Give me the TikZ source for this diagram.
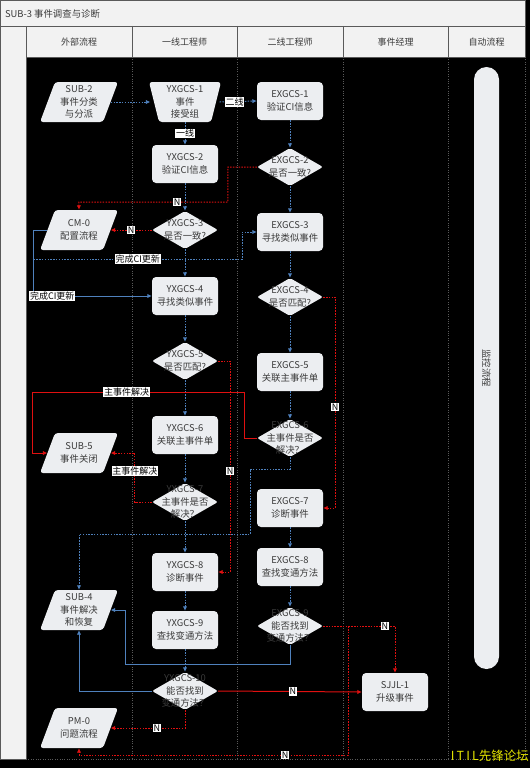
\documentclass[tikz,border=0pt]{standalone}
\usepackage{fontspec}
\setmainfont{Noto Sans CJK SC}
\usetikzlibrary{shapes.geometric,arrows.meta,calc}
\definecolor{nodefill}{HTML}{ECEEF1}
\definecolor{hdrfill}{HTML}{F2F2F2}
\definecolor{txt}{HTML}{3A3A3A}
\definecolor{bl}{HTML}{4F81BD}
\definecolor{rd}{HTML}{E01010}
\definecolor{lane}{HTML}{5A5A5A}
\definecolor{wm}{HTML}{E6E600}
\newcommand\nodefont{\fontsize{9.4}{12.5}\selectfont}
\newcommand\lblfont{\fontsize{9}{10}\selectfont}
\newcommand\hdrfont{\fontsize{9}{10}\selectfont}
\newcommand\parashape[2]{\fill[nodefill, rounded corners=3pt] (#1-24,#2-20) -- (#1+39,#2-20) -- (#1+24,#2+20) -- (#1-39,#2+20) -- cycle;}
\begin{document}
\begin{tikzpicture}[x=1pt,y=-1pt,
  proc/.style={fill=nodefill, rounded corners=4pt, minimum width=66pt, minimum height=38pt, inner sep=0pt, align=center, font=\nodefont, text=txt},
  dec/.style={diamond, fill=nodefill, rounded corners=2pt, minimum width=66pt, minimum height=38pt, inner sep=0pt},
  dectext/.style={align=center, font=\nodefont, text=txt, inner sep=0pt},
  paratext/.style={minimum width=63pt, minimum height=40pt, inner sep=0pt, align=center, font=\nodefont, text=txt},
  lbl/.style={fill=white, text=black, inner sep=0.8pt, font=\lblfont},
  hdr/.style={font=\hdrfont, text=txt},
  tipsty/.style={-{Latex[length=4.5pt,width=4.5pt]}},
  flowb/.style={draw=bl, line width=1pt, dash pattern=on 1.5pt off 1.3pt, tipsty},
  flowbs/.style={draw=bl, line width=1pt, tipsty},
  flowr/.style={draw=rd, line width=1pt, dash pattern=on 1.5pt off 1.3pt, tipsty},
  flowrs/.style={draw=rd, line width=1pt, tipsty}]
\useasboundingbox (0,0) rectangle (530,768);
\fill[black] (0,0) rectangle (530,768);
% title bar, left strip, header
\draw[fill=hdrfill, draw=lane] (0.5,0.5) rectangle (525,26);
\node[anchor=west, font=\fontsize{9.4}{10}\selectfont, text=txt] (title) at (1.5,14) {SUB-3 事件调查与诊断};
\draw[fill=hdrfill, draw=lane] (0.5,26) rectangle (26,759);
\draw[fill=hdrfill, draw=lane] (26,26) rectangle (525,57);
\foreach \x in {132,237,343,448} \draw[lane] (\x,26) -- (\x,57);
\foreach \x in {132,237,343,448,525} \draw[lane, dotted] (\x,57) -- (\x,759);
\draw[lane, dotted] (26,759) -- (525,759);
\node[hdr] (h1) at (79,42) {外部流程};
\node[hdr] (h2) at (184.5,42) {一线工程师};
\node[hdr] (h3) at (290,42) {二线工程师};
\node[hdr] (h4) at (395.5,42) {事件经理};
\node[hdr] (h5) at (486.5,42) {自动流程};
% monitor capsule
\node[fill=nodefill, rounded corners=12.5pt, minimum width=25pt, minimum height=602pt, inner sep=0pt,
  label={[rotate=-90, font=\nodefont, text=txt]center:监控流程}] (mon) at (486.5,368) {};
% external process parallelograms
\parashape{79}{102}\node[paratext] (sub2) at (79,102) {SUB-2\\事件分类\\与分派};
\parashape{79}{230}\node[paratext] (cm0) at (79,230) {CM-0\\配置流程};
\parashape{79}{453}\node[paratext] (sub5) at (79,453) {SUB-5\\事件关闭};
\parashape{79}{610}\node[paratext] (sub4) at (79,610) {SUB-4\\事件解决\\和恢复};
\parashape{79}{728}\node[paratext] (pm0) at (79,728) {PM-0\\问题流程};
% first line
\fill[nodefill, rounded corners=3pt] (149,82) -- (221,82) -- (211,122) -- (159,122) -- cycle;
\node[paratext, minimum width=69pt] (y1) at (185,102) {YXGCS-1\\事件\\接受组};
\node[proc] (y2) at (185,164) {YXGCS-2\\验证CI信息};
\node[dec, label={[dectext]center:{YXGCS-3\\是否一致?}}] (y3) at (185,230) {};
\node[proc] (y4) at (185,296) {YXGCS-4\\寻找类似事件};
\node[dec, label={[dectext]center:{YXGCS-5\\是否匹配?}}] (y5) at (185,361) {};
\node[proc] (y6) at (185,435) {YXGCS-6\\关联主事件单};
\node[dec, label={[dectext]center:{YXGCS-7\\主事件是否\\解决？}}] (y7) at (185,502) {};
\node[proc] (y8) at (185,572) {YXGCS-8\\诊断事件};
\node[proc] (y9) at (185,630) {YXGCS-9\\查找变通方法};
\node[dec, label={[dectext]center:{YXGCS-10\\能否找到\\变通方法？}}] (y10) at (185,691) {};
% second line
\node[proc] (e1) at (290,101) {EXGCS-1\\验证CI信息};
\node[dec, label={[dectext]center:{EXGCS-2\\是否一致?}}] (e2) at (290,167) {};
\node[proc] (e3) at (290,232) {EXGCS-3\\寻找类似事件};
\node[dec, label={[dectext]center:{EXGCS-4\\是否匹配?}}] (e4) at (290,297) {};
\node[proc] (e5) at (290,372) {EXGCS-5\\关联主事件单};
\node[dec, label={[dectext]center:{EXGCS-6\\主事件是否\\解决？}}] (e6) at (290,438) {};
\node[proc] (e7) at (290,508) {EXGCS-7\\诊断事件};
\node[proc] (e8) at (290,567) {EXGCS-8\\查找变通方法};
\node[dec, label={[dectext]center:{EXGCS-9\\能否找到\\变通方法？}}] (e9) at (290,626) {};
% incident manager
\node[proc] (sj1) at (395,692) {SJJL-1\\升级事件};
% connectors
\draw[flowb] (sub2.east) -- (y1.west);
\draw[flowb] (y1.east) -- (e1.west) node[lbl,pos=0.4]{二线};
\draw[flowb] (y1.south) -- (y2.north) node[lbl,midway]{一线};
\draw[flowb] (y2.south) -- (y3.north);
\draw[flowr] (e2.west) -- ++(-29,0) -- ++(0,35) -- ++(-149,0) node[lbl,pos=0.34]{N} -- (cm0.north);
\draw[flowr] (y3.west) -- (cm0.east) node[lbl,midway]{N};
\draw[flowb] (y3.south) -- (y4.north);
\draw[flowbs] (cm0.west) -- ++(-14,0) |- (y4.west) node[lbl,pos=0.58]{完成CI更新};
\coordinate (j1) at (33.5,259);
\draw[flowb] (j1) -- ++(208.5,0) node[lbl,pos=0.5]{完成CI更新} |- (e3.west);
\draw[flowb] (e1.south) -- (e2.north);
\draw[flowb] (e2.south) -- (e3.north);
\draw[flowb] (e3.south) -- (e4.north);
\draw[flowb] (e4.south) -- (e5.north);
\draw[flowb] (e5.south) -- (e6.north);
\draw[flowb] (e7.south) -- (e8.north);
\draw[flowb] (e8.south) -- (e9.north);
\draw[flowr] (e4.east) -- ++(12,0) |- (e7.east) node[lbl,pos=0.26]{N};
\draw[flowb] (y4.south) -- (y5.north);
\draw[flowb] (y5.south) -- (y6.north);
\draw[flowb] (y6.south) -- (y7.north);
\draw[flowb] (y7.south) -- (y8.north);
\draw[flowb] (y8.south) -- (y9.north);
\draw[flowb] (y9.south) -- (y10.north);
\draw[flowr] (y5.east) -- ++(12,0) |- (y8.east) node[lbl,pos=0.26]{N};
\draw[flowrs] (e6.west) -- ++(-12,0) -- ++(0,-46) -- ++(-212,0) node[lbl,pos=0.557]{主事件解决} |- (sub5.west);
\draw[flowr] (y7.west) -- ++(-17,0) |- (sub5.east) node[lbl,pos=0.32]{主事件解决};
\draw[flowb] (e6.south) -- ++(0,12) -- ++(-40,0) -- ++(0,65) -| (sub4.north);
\draw[flowbs] (e9.south) -- ++(0,19) -- ++(-165,0) |- (sub4.east);
\draw[flowbs] (y10.west) -| (sub4.south);
\draw[flowr] (y10.south) |- (pm0.east) node[lbl,pos=0.69]{N};
\draw[flowrs] (y10.east) -- (sj1.west) node[lbl,pos=0.52]{N};
\draw[flowr] (e9.east) -| (sj1.north) node[lbl,pos=0.43]{N};
\draw[flowr] (e9.east) -- ++(25,0) -- ++(0,129) -| (pm0.south) node[lbl,pos=0.117]{N};
% watermark
\node[anchor=east, font=\fontsize{12.5}{14}\selectfont, text=wm, inner sep=0pt] (wmk) at (529,756) {I\,T\,I\,L先锋论坛};
\end{tikzpicture}
\end{document}
